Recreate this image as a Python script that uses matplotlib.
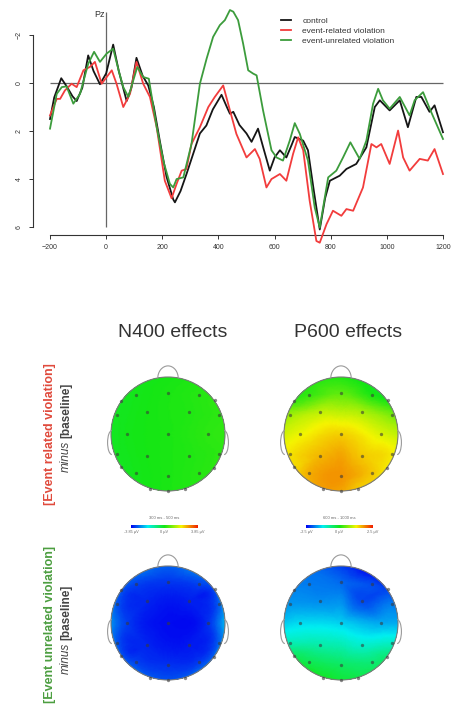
import matplotlib
matplotlib.use('Agg')
import matplotlib.pyplot as plt
import matplotlib.tri as mtri
from matplotlib.colors import LinearSegmentedColormap, Normalize
from matplotlib.cm import ScalarMappable
from matplotlib.patches import Circle, Arc
import numpy as np

plt.rcParams['font.family'] = ['Liberation Sans', 'DejaVu Sans']

# ERP at Pz (microvolts, negative plotted up)
control_t = [-200, -185, -160, -140, -120, -105, -85, -64, -45, -22, 0, 25, 45, 73, 90, 108, 130, 150,
             170, 191, 215, 239, 245, 265, 286, 310, 334, 357, 380, 411, 430, 441, 453, 475, 500, 518,
             541, 560, 583, 600, 619, 642, 660, 672, 702, 719, 740, 761, 780, 797, 832, 856, 891, 927,
             957, 975, 1010, 1046, 1075, 1105, 1123, 1152, 1170, 1200]
control_uv = [1.5, 0.6, -0.2, 0.15, 0.55, 0.75, 0.2, -1.15, -0.5, 0.05, -0.4, -1.6, -0.5, 0.75, 0.2,
              -1.05, -0.3, 0.1, 1.0, 2.4, 3.9, 4.85, 4.97, 4.5, 3.8, 2.95, 2.1, 1.77, 1.1, 0.49, 1.0,
              1.28, 1.2, 1.75, 2.1, 2.45, 1.9, 2.7, 3.65, 3.1, 2.8, 3.1, 2.6, 2.25, 2.4, 2.8, 4.5, 6.1,
              4.8, 4.07, 3.86, 3.58, 3.37, 2.68, 1.0, 0.72, 1.14, 0.72, 1.84, 0.58, 0.58, 1.2, 0.93, 2.05]

related_t = [-200, -176, -164, -147, -123, -105, -81, -58, -40, -16, 2, 20, 37, 61, 85, 108, 132, 156,
             180, 209, 233, 251, 269, 286, 304, 334, 364, 387, 417, 441, 464, 500, 530, 547, 571, 589,
             619, 642, 666, 684, 702, 725, 749, 761, 785, 808, 838, 856, 880, 915, 945, 963, 980, 1010,
             1040, 1058, 1081, 1117, 1146, 1170, 1200]
related_uv = [1.35, 0.66, 0.66, 0.31, 0.03, 0.17, -0.53, -0.67, -0.88, 0.03, -0.25, -0.53, 0.03, 1.0,
              0.45, -0.88, 0.03, 0.58, 1.84, 4.07, 4.8, 4.2, 3.65, 3.58, 2.54, 1.84, 1.0, 0.58, 0.1,
              1.14, 2.12, 3.1, 2.75, 3.16, 4.35, 4.0, 3.79, 4.07, 2.95, 2.26, 2.8, 4.9, 6.58, 6.65,
              5.88, 5.32, 5.53, 5.25, 5.32, 4.35, 2.54, 2.68, 2.54, 3.37, 1.98, 3.1, 3.65, 3.16, 3.23,
              2.75, 3.79]

unrelated_t = [-200, -176, -158, -141, -117, -93, -64, -43, -22, 2, 25, 45, 61, 79, 111, 132, 152, 180,
               205, 227, 239, 251, 275, 304, 334, 358, 381, 405, 423, 441, 453, 470, 488, 506, 524, 536,
               559, 589, 607, 630, 654, 672, 690, 719, 743, 761, 791, 820, 844, 870, 903, 927, 951, 969,
               986, 1010, 1046, 1081, 1099, 1129, 1158, 1200]
unrelated_uv = [1.9, 0.45, 0.17, 0.14, 0.86, 0.45, -0.8, -1.3, -0.88, -1.23, -1.43, -0.5, 0.17, 0.58,
                -0.67, -0.25, -0.18, 1.84, 3.3, 4.2, 4.35, 4.0, 3.93, 2.54, 0.03, -1.02, -1.92, -2.41,
                -2.62, -3.04, -2.97, -2.62, -1.64, -0.53, -0.39, -0.32, 1.14, 2.8, 3.1, 3.23, 2.4, 1.67,
                2.12, 3.23, 5.18, 6.02, 3.93, 3.65, 3.1, 2.47, 3.16, 2.4, 0.86, 0.24, 0.72, 1.07, 0.58,
                1.35, 0.72, 0.38, 1.21, 2.33]

series_labels = ['control', 'event-related violation', 'event-unrelated violation']
series_colors = ['#151515', '#f23c3c', '#3c9c3c']

# electrode layout (unit head radius, nose up)
elec_x = [0.0, -0.56, 0.55, -0.82, 0.83, -0.37, 0.36, -0.89, 0.89, -0.72, 0.0, 0.71,
          -0.89, -0.37, 0.36, 0.89, -0.82, 0.80, -0.56, 0.0, 0.55, -0.31, 0.0, 0.30]
elec_y = [0.72, 0.68, 0.68, 0.58, 0.60, 0.38, 0.38, 0.34, 0.34, 0.0, 0.0, 0.0,
          -0.35, -0.38, -0.38, -0.35, -0.58, -0.60, -0.69, -0.73, -0.69, -0.96, -1.0, -0.96]
rim_angles = [0, 30, 60, 90, 120, 150, 180, 210, 240, 270, 300, 330]

# mean amplitude differences (microvolts) at electrodes and at the scalp rim
n400_related = [0.05, -0.05, 0.15, -0.1, 0.2, 0.0, 0.1, -0.1, 0.2, -0.05, 0.05, 0.2,
                -0.1, 0.0, 0.1, 0.2, -0.1, 0.2, -0.05, 0.05, 0.15, 0.0, 0.05, 0.1]
n400_related_rim = [0.25, 0.2, 0.1, 0.0, -0.05, -0.1, -0.15, -0.1, -0.05, 0.05, 0.15, 0.25]
p600_related = [0.4, 0.2, 0.05, 0.2, 0.0, 0.95, 0.85, 0.75, 0.55, 1.2, 1.45, 1.1,
                1.35, 1.6, 1.5, 1.3, 1.4, 1.3, 1.65, 1.8, 1.5, 1.75, 1.7, 1.5]
p600_related_rim = [0.9, 0.1, -0.1, 0.0, 0.1, 0.3, 1.0, 1.4, 1.65, 1.65, 1.4, 1.15]
n400_unrelated = [-3.4, -3.3, -3.3, -3.1, -3.1, -3.55, -3.6, -3.15, -3.1, -3.35, -3.75, -3.45,
                  -3.15, -3.55, -3.65, -3.05, -3.1, -3.0, -3.3, -3.45, -3.35, -3.1, -3.15, -3.1]
n400_unrelated_rim = [-2.1, -2.4, -2.8, -3.0, -2.85, -2.55, -2.5, -2.45, -2.8, -2.95, -2.7, -2.2]
p600_unrelated = [-1.95, -1.85, -2.1, -1.8, -2.15, -1.75, -2.1, -1.7, -1.85, -1.35, -1.4, -1.6,
                  -0.9, -0.85, -1.05, -1.0, -0.4, -0.55, -0.35, -0.45, -0.55, -0.1, -0.2, -0.3]
p600_unrelated_rim = [-1.6, -2.1, -2.45, -2.2, -1.9, -1.8, -1.45, -0.5, 0.0, -0.1, -0.35, -0.7]

n400_window = '300 ms - 500 ms'
p600_window = '600 ms - 1000 ms'
n400_limit = 3.85
p600_limit = 2.5

W, H = 454, 704


def fx(px):
    return px / W


def fy(py):
    return 1 - py / H


fig = plt.figure(figsize=(W / 100, H / 100), dpi=100)

# ---------------- ERP panel ----------------
ax = fig.add_axes([fx(44.4), fy(235), 404.2 / W, 228.8 / H])
ax.set_xlim(-220, 1220)
ax.set_ylim(6.33, -3.2)
ax.hlines(0, -200, 1200, color='#666666', lw=0.9)
ax.vlines(0, -2.96, 6.0, color='#666666', lw=0.9)
handles = []
for t, v, c in zip([control_t, related_t, unrelated_t],
                   [control_uv, related_uv, unrelated_uv], series_colors):
    h, = ax.plot(t, v, color=c, lw=1.3, clip_on=False, zorder=3, solid_joinstyle='round')
    handles.append(h)
ax.text(-22, -2.85, 'Pz', ha='center', va='center', fontsize=6.5, color='#333333')

for s in ['top', 'right']:
    ax.spines[s].set_visible(False)
ax.spines['left'].set_position(('outward', 8.2))
ax.spines['left'].set_bounds(-2, 6)
ax.spines['bottom'].set_bounds(-200, 1200)
for s in ['left', 'bottom']:
    ax.spines[s].set_color('#333333')
    ax.spines[s].set_linewidth(0.8)
ax.set_xticks(range(-200, 1201, 200))
ax.set_yticks([-2, 0, 2, 4, 6])
ax.tick_params(axis='both', length=3, width=0.7, color='#333333', labelsize=5, labelcolor='#333333')
ax.tick_params(axis='x', pad=3.8)
ax.tick_params(axis='y', pad=4.5)
for lbl in ax.get_yticklabels():
    lbl.set_rotation(90)
    lbl.set_va('center')

ax.legend(handles, series_labels, loc='upper left', bbox_to_anchor=(fx(281), fy(17)),
          bbox_transform=fig.transFigure, frameon=False, fontsize=6, handlelength=1.25,
          handletextpad=1.3, labelspacing=0.25, borderaxespad=0, borderpad=0,
          labelcolor='#333333')

# ---------------- topographic maps ----------------
cmap = LinearSegmentedColormap.from_list(
    'topo', ['#0000f0', '#00f0f0', '#14e614', '#f5f500', '#f01e00'])

rim_r = 1.06
pos_x = np.concatenate([elec_x, rim_r * np.cos(np.radians(rim_angles))])
pos_y = np.concatenate([elec_y, rim_r * np.sin(np.radians(rim_angles))])
tri = mtri.Triangulation(pos_x, pos_y)
refiner = mtri.UniformTriRefiner(tri)

R = 57.0
half = 70.0


def head_map(cx, cy, values, rim_values, limit):
    a = fig.add_axes([fx(cx - half), fy(cy + half), 2 * half / W, 2 * half / H])
    a.set_xlim(-half / R, half / R)
    a.set_ylim(-half / R, half / R)
    a.axis('off')
    z = np.concatenate([values, rim_values])
    interp = mtri.CubicTriInterpolator(tri, z, kind='geom')
    tri_f, z_f = refiner.refine_field(z, triinterpolator=interp, subdiv=4)
    tp = a.tripcolor(tri_f, z_f, shading='gouraud', cmap=cmap, vmin=-limit, vmax=limit)
    clip = Circle((0, 0), 1.0, transform=a.transData)
    tp.set_clip_path(clip)
    a.add_patch(Circle((0, 0), 1.0, fill=False, ec='#7a7a7a', lw=0.8))
    a.add_patch(Arc((0, 0.975), 0.36, 0.44, theta1=0, theta2=180, ec='#9a9a9a', lw=0.8))
    a.add_patch(Arc((-0.985, -0.15), 0.15, 0.42, theta1=90, theta2=270, ec='#9a9a9a', lw=0.8))
    a.add_patch(Arc((0.985, -0.15), 0.15, 0.42, theta1=-90, theta2=90, ec='#9a9a9a', lw=0.8))
    a.plot(elec_x, elec_y, 'o', ms=2.4, color='#3a3a3a', alpha=0.6, mec='none')


head_map(168, 434, n400_related, n400_related_rim, n400_limit)
head_map(341, 434, p600_related, p600_related_rim, p600_limit)
head_map(168, 623, n400_unrelated, n400_unrelated_rim, n400_limit)
head_map(341, 623, p600_unrelated, p600_unrelated_rim, p600_limit)

# colour bars
for x0, limit, window in [(131, n400_limit, n400_window), (306, p600_limit, p600_window)]:
    cax = fig.add_axes([fx(x0), fy(528), 67 / W, 3 / H])
    sm = ScalarMappable(norm=Normalize(-limit, limit), cmap=cmap)
    cb = fig.colorbar(sm, cax=cax, orientation='horizontal')
    cb.outline.set_visible(False)
    cb.set_ticks([-limit, 0, limit])
    cb.set_ticklabels([f'{-limit:g} µV', '0 µV', f'{limit:g} µV'])
    cax.tick_params(length=0, pad=1.5, labelsize=2.8, labelcolor='#666666')
    cax.set_title(window, fontsize=3, pad=4, color='#666666')

# titles
fig.text(fx(172.5), fy(332), 'N400 effects', ha='center', va='center', fontsize=14, color='#333333')
fig.text(fx(348), fy(332), 'P600 effects', ha='center', va='center', fontsize=14, color='#333333')

# row labels
fig.text(fx(50), fy(434), '[Event related violation]', rotation=90, ha='center', va='center',
         fontsize=9, fontweight='bold', color='#e04a3c')
fig.text(fx(66), fy(441), 'minus', rotation=90, ha='center', va='top', fontsize=8.5,
         style='italic', color='#444444')
fig.text(fx(66), fy(438), '[baseline]', rotation=90, ha='center', va='bottom', fontsize=8.5,
         fontweight='bold', color='#444444')

fig.text(fx(50), fy(624), '[Event unrelated violation]', rotation=90, ha='center', va='center',
         fontsize=9, fontweight='bold', color='#4c9e40')
fig.text(fx(66), fy(643), 'minus', rotation=90, ha='center', va='top', fontsize=8.5,
         style='italic', color='#444444')
fig.text(fx(66), fy(640), '[baseline]', rotation=90, ha='center', va='bottom', fontsize=8.5,
         fontweight='bold', color='#444444')

fig.savefig('out.png', dpi=100, facecolor='white')
